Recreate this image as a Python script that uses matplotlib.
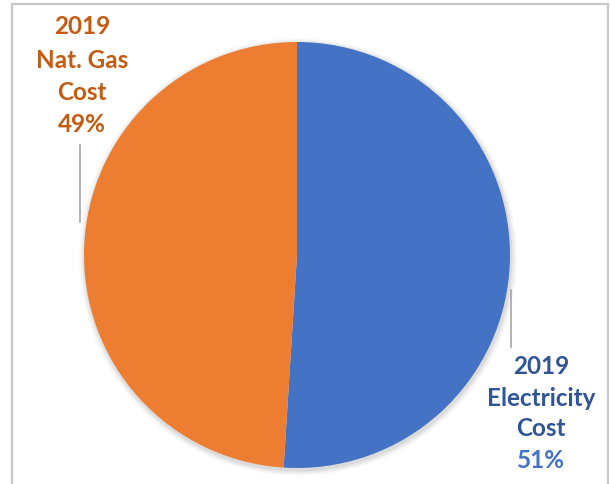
import matplotlib
matplotlib.use("Agg")
import matplotlib.pyplot as plt
from matplotlib.patches import Rectangle

categories = ["2019\nElectricity\nCost", "2019\nNat. Gas\nCost"]
shares = [51, 49]
slice_colors = ["#4472C4", "#ED7D31"]
name_colors = ["#2F5597", "#C55A11"]
pct_colors = ["#4472C4", "#C55A11"]

W, H = 610, 484
fig = plt.figure(figsize=(W / 100, H / 100), dpi=100)
ax = fig.add_axes([0, 0, 1, 1])

# chart frame
fig.patches.append(Rectangle((12 / W, -0.05), (608 - 12) / W, (H - 4) / H + 0.05,
                             transform=fig.transFigure, fill=False,
                             edgecolor="#C8C8C8", linewidth=1.6))

cx, cy, r = 297, H - 255, 213

# soft shadow
for k, a in enumerate([0.05, 0.04, 0.03, 0.02]):
    ax.add_patch(plt.Circle((cx + 1, cy - 2), r + 1.5 + k * 1.5, color="black",
                            alpha=a, lw=0, zorder=1))

ax.pie(shares, colors=slice_colors, startangle=90, counterclock=False,
       center=(cx, cy), radius=r, frame=True,
       wedgeprops=dict(linewidth=0, zorder=2))
ax.set_xlim(0, W)
ax.set_ylim(0, H)
ax.set_aspect("equal")
ax.axis("off")

# leader lines
ax.plot([80, 80], [H - 145, H - 222], color="#A6A6A6", lw=1.2, zorder=3)
ax.plot([511, 511], [H - 290, H - 347], color="#A6A6A6", lw=1.2, zorder=3)

font = dict(family=["Lato", "DejaVu Sans"], fontweight="bold", fontsize=17.5,
            ha="center", va="center")

# labels: name lines then percentage
label_pos = [(541, [367, 398, 428], 461), (82, [27, 60, 92], 125)]
for i, (x, ys, yp) in enumerate(label_pos):
    for line, y in zip(categories[i].split("\n"), ys):
        ax.text(x, H - y, line, color=name_colors[i], **font)
    ax.text(x, H - yp, f"{shares[i]}%", color=pct_colors[i], **font)

fig.savefig("out.png", dpi=100)
